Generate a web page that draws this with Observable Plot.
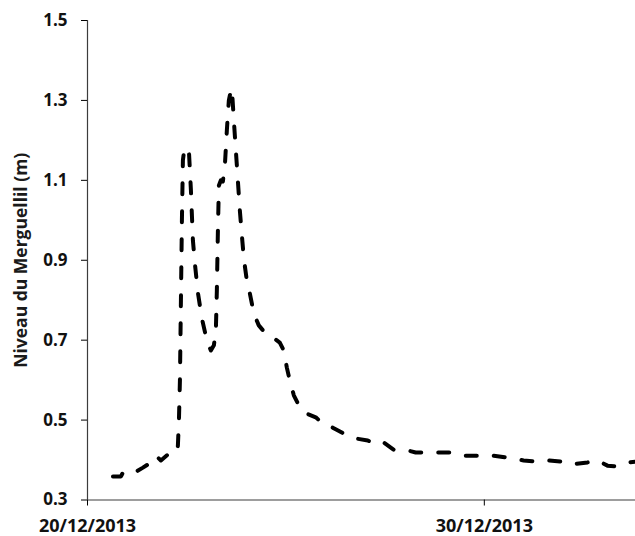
<!DOCTYPE html>
<html>
<head>
<meta charset="utf-8">
<script src="https://cdn.jsdelivr.net/npm/d3@7"></script>
<script src="https://cdn.jsdelivr.net/npm/@observablehq/plot@0.6"></script>
<style>
  html, body { margin: 0; padding: 0; background: #fff; }
  #chart svg { display: block; }
</style>
</head>
<body>
<div id="chart"></div>
<script>
// Time stamps (UTC) and water level of the Merguellil (m)
const times = [
  "2013-12-20T15:24","2013-12-20T20:14","2013-12-20T21:27","2013-12-21T03:30","2013-12-21T09:32",
  "2013-12-21T14:23","2013-12-21T17:24","2013-12-21T20:24","2013-12-22T01:15","2013-12-22T06:04",
  "2013-12-22T06:40","2013-12-22T07:18","2013-12-22T07:54","2013-12-22T08:30","2013-12-22T09:06",
  "2013-12-22T09:42","2013-12-22T10:36","2013-12-22T12:07","2013-12-22T13:19","2013-12-22T14:33",
  "2013-12-22T15:45","2013-12-22T16:57","2013-12-22T18:46","2013-12-22T21:12","2013-12-23T00:13",
  "2013-12-23T02:37","2013-12-23T04:26","2013-12-23T05:38","2013-12-23T06:14","2013-12-23T06:52",
  "2013-12-23T07:28","2013-12-23T08:40","2013-12-23T09:52","2013-12-23T11:05","2013-12-23T12:17",
  "2013-12-23T13:29","2013-12-23T14:43","2013-12-23T15:19","2013-12-23T16:31","2013-12-23T17:43",
  "2013-12-23T18:56","2013-12-23T20:08","2013-12-23T21:22","2013-12-23T22:34","2013-12-24T00:22",
  "2013-12-24T02:11","2013-12-24T04:35","2013-12-24T07:36","2013-12-24T11:15","2013-12-24T16:05",
  "2013-12-24T20:18","2013-12-24T22:44","2013-12-25T00:32","2013-12-25T02:21","2013-12-25T04:47",
  "2013-12-25T07:48","2013-12-25T12:01","2013-12-25T18:04","2013-12-25T22:18","2013-12-26T04:21",
  "2013-12-26T11:00","2013-12-26T18:14","2013-12-27T01:29","2013-12-27T06:19","2013-12-27T11:10",
  "2013-12-27T17:11","2013-12-28T01:39","2013-12-28T06:29","2013-12-28T15:33","2013-12-28T23:24",
  "2013-12-29T04:51","2013-12-29T11:30","2013-12-29T19:57","2013-12-30T05:01","2013-12-30T14:05",
  "2013-12-30T23:46","2013-12-31T08:12","2013-12-31T14:15","2013-12-31T22:06","2014-01-01T04:09",
  "2014-01-01T14:25","2014-01-01T20:28","2014-01-02T02:30","2014-01-02T08:33","2014-01-02T15:12",
  "2014-01-02T19:25"
];
const levels = [
  0.359,0.359,0.369,0.366,0.381,
  0.394,0.411,0.399,0.416,0.419,
  0.436,0.499,0.599,0.799,1.000,
  1.150,1.180,1.182,1.175,1.075,
  0.950,0.892,0.819,0.754,0.699,
  0.674,0.687,0.724,0.824,0.974,
  1.087,1.100,1.097,1.137,1.225,
  1.300,1.325,1.330,1.250,1.175,
  1.100,1.025,0.962,0.904,0.849,
  0.817,0.767,0.737,0.719,0.707,
  0.694,0.674,0.632,0.599,0.562,
  0.537,0.517,0.507,0.491,0.481,
  0.466,0.454,0.449,0.439,0.444,
  0.426,0.424,0.419,0.419,0.419,
  0.419,0.411,0.411,0.411,0.406,
  0.399,0.396,0.399,0.396,0.389,
  0.394,0.399,0.386,0.384,0.394,
  0.396
];
const yTicks = [0.3, 0.5, 0.7, 0.9, 1.1, 1.3, 1.5];
const xTickLabels = ["2013-12-20T00:00", "2013-12-30T00:00"];
const xDomainLabels = ["2013-12-20T00:00", "2014-01-02T19:26"];
const yTitle = "Niveau du Merguellil (m)";

const parse = d3.utcParse("%Y-%m-%dT%H:%M");
const data = times.map((t, i) => ({date: parse(t), level: levels[i]}));
const xTicks = xTickLabels.map(parse);
const xDomain = xDomainLabels.map(parse);
const axisColor = "#3c3c3c";

const chart = Plot.plot({
  width: 635,
  height: 536,
  marginLeft: 87,
  marginRight: 0,
  marginTop: 20,
  marginBottom: 36.5,
  style: {fontFamily: "'Open Sans', sans-serif", background: "#fff", color: "#000"},
  x: {type: "utc", domain: xDomain},
  y: {domain: [0.3, 1.5]},
  marks: [
    Plot.ruleX([xDomain[0]], {y1: 0.3, y2: 1.5, stroke: axisColor, strokeWidth: 1.2}),
    Plot.ruleY([0.3], {stroke: axisColor, strokeWidth: 1.2}),
    Plot.axisY({ticks: yTicks, tickSize: 6, tickPadding: 14, tickFormat: d3.format(".1f"),
      label: null, fontSize: 17, fontWeight: "bold", fill: "#111"}),
    Plot.axisX({ticks: xTicks, tickSize: 6, tickPadding: 13, tickFormat: d3.utcFormat("%d/%m/%Y"),
      label: null, fontSize: 18, fontWeight: "bold", fill: "#111"}),
    Plot.text([yTitle], {frameAnchor: "left", textAnchor: "middle", dx: -66, rotate: -90,
      fontSize: 17.5, fontWeight: "bold", fill: "#1a1a1a"}),
    Plot.line(data, {x: "date", y: "level", stroke: "#000", strokeWidth: 4,
      strokeDasharray: "11,17", strokeLinecap: "round", strokeLinejoin: "round"})
  ]
});
document.getElementById("chart").appendChild(chart);
</script>
</body>
</html>
